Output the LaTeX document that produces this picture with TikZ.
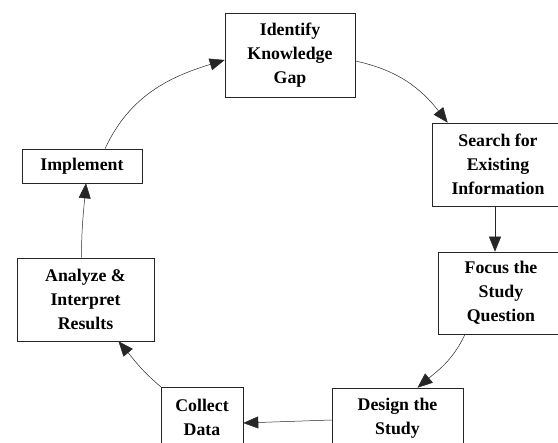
\documentclass[tikz,border=0pt]{standalone}
\usepackage{fontspec}
\setmainfont{Liberation Serif}
\usetikzlibrary{arrows.meta}
\tikzset{
  stagebox/.style={draw=black!85, line width=0.6pt, fill=white, align=center,
    font=\bfseries\fontsize{17.8}{24}\selectfont, inner sep=0pt},
  cyclearrow/.style={draw=black!85, line width=0.5pt, -{Triangle[length=15pt,width=12pt]}}
}
\begin{document}
\begin{tikzpicture}[x=1pt,y=-1pt]
				\useasboundingbox (0,0) rectangle (558,443);
				\clip (0,0) rectangle (558,443);
				\node[stagebox, minimum width=130pt, minimum height=84pt] (ident) at (290,55) {Identify\\Knowledge\\Gap};
				\node[stagebox, minimum width=132pt, minimum height=83pt] (search) at (498,164.5) {Search for\\Existing\\Information};
				\node[stagebox, minimum width=126pt, minimum height=82pt] (focus) at (501,293) {Focus the\\Study\\Question};
				\node[stagebox, minimum width=131pt, minimum height=60pt] (design) at (397.5,418) {Design the\\Study};
				\node[stagebox, minimum width=82pt, minimum height=60pt] (collect) at (202,417) {Collect\\Data};
				\node[stagebox, minimum width=137pt, minimum height=83pt] (analyze) at (85.5,299.5) {Analyze \&\\Interpret\\Results};
				\node[stagebox, minimum width=120pt, minimum height=34pt] (implement) at (82,166) {Implement};
				\draw[cyclearrow] ([yshift=-6pt]ident.east) to[out=-12,in=128] ([xshift=16pt]search.north west);
				\draw[cyclearrow] ([xshift=-3pt]search.south) -- ([xshift=-3pt]search.south |- focus.north);
				\draw[cyclearrow] ([xshift=-36pt]focus.south) to[out=-115,in=40] ([xshift=20pt]design.north);
				\draw[cyclearrow] ([yshift=-2pt]design.west) -- ([yshift=-6pt]collect.east);
				\draw[cyclearrow] (collect.north west) to[out=140,in=-50] ([xshift=33pt]analyze.south);
				\draw[cyclearrow] ([xshift=-4pt]analyze.north) to[out=90,in=-95] ([xshift=4pt]implement.south);
				\draw[cyclearrow] ([xshift=23pt]implement.north) to[out=65,in=-163] ([yshift=-5pt]ident.west);
			\end{tikzpicture}
\end{document}
